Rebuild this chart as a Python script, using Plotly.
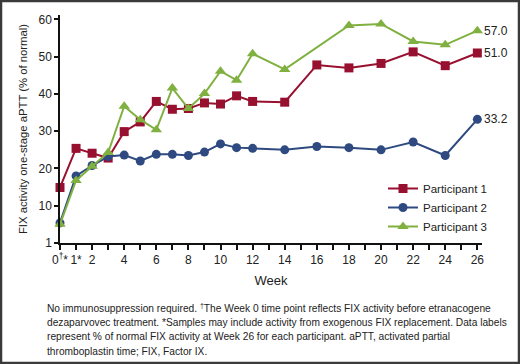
import plotly.graph_objects as go

weeks_p1 = [0, 1, 2, 3, 4, 5, 6, 7, 8, 9, 10, 11, 12, 14, 16, 18, 20, 22, 24, 26]
p1 = [14.9, 25.4, 24.1, 22.8, 29.9, 32.5, 38.0, 35.9, 36.1, 37.6, 37.3, 39.5, 38.0, 37.8, 47.8, 47.0, 48.2, 51.3, 47.6, 51.0]
weeks_p2 = [0, 1, 2, 3, 4, 5, 6, 7, 8, 9, 10, 11, 12, 14, 16, 18, 20, 22, 24, 26]
p2 = [5.4, 18.0, 20.8, 23.2, 23.6, 22.0, 23.8, 23.8, 23.5, 24.4, 26.6, 25.6, 25.4, 25.0, 25.9, 25.6, 25.0, 27.1, 23.5, 33.2]
weeks_p3 = [0, 1, 2, 3, 4, 5, 6, 7, 8, 9, 10, 11, 12, 14, 18, 20, 22, 24, 26]
p3 = [5.0, 16.8, 20.6, 24.3, 36.7, 33.1, 30.4, 41.6, 36.1, 40.1, 46.1, 43.7, 50.8, 46.6, 58.4, 58.8, 54.1, 53.2, 57.0]
series_names = ["Participant 1", "Participant 2", "Participant 3"]
end_labels = ["51.0", "33.2", "57.0"]

x_tickvals = [0, 1, 2, 4, 6, 8, 10, 12, 14, 16, 18, 20, 22, 24, 26]
x_ticktext = ["0<sup>†</sup>*", "1*", "2", "4", "6", "8", "10", "12", "14", "16", "18", "20", "22", "24", "26"]
y_tickvals = [0, 10, 20, 30, 40, 50, 60]
y_ticktext = ["1", "10", "20", "30", "40", "50", "60"]

caption_lines = [
    "No immunosuppression required. <sup>†</sup>The Week 0 time point reflects FIX activity before etranacogene",
    "dezaparvovec treatment. *Samples may include activity from exogenous FIX replacement. Data labels",
    "represent % of normal FIX activity at Week 26 for each participant. aPTT, activated partial",
    "thromboplastin time; FIX, Factor IX.",
]

colors = ["#98102F", "#2E4A80", "#7FB040"]
symbols = ["square", "circle", "triangle-up"]
sizes = [9, 9, 10]

W, H = 520, 364
L, R, T, B = 60, 38, 15, 121
pw, ph = W - L - R, H - T - B

def px_x(x):
    return (x - L) / pw

def px_y(y):
    return (H - B - y) / ph

fig = go.Figure()
for xs, ys, name, c, s, sz in zip([weeks_p1, weeks_p2, weeks_p3], [p1, p2, p3], series_names, colors, symbols, sizes):
    fig.add_trace(go.Scatter(x=xs, y=ys, name=name, mode="lines+markers",
                             line=dict(color=c, width=2),
                             marker=dict(symbol=s, size=sz, color=c),
                             cliponaxis=False))

for ys, lab in zip([p1, p2, p3], end_labels):
    fig.add_annotation(x=26, y=ys[-1], text=lab, showarrow=False, xanchor="left",
                       xshift=5, font=dict(size=12, color="#222222"))

font = "Liberation Sans, Arial, sans-serif"

fig.update_layout(
    width=W, height=H,
    margin=dict(l=L, r=R, t=T, b=B),
    paper_bgcolor="white", plot_bgcolor="white",
    font=dict(family=font, size=12, color="#222222"),
    showlegend=True,
    legend=dict(x=px_x(383), y=px_y(174), xanchor="left", yanchor="top",
                font=dict(size=11.5), bgcolor="rgba(0,0,0,0)", tracegroupgap=0,
                itemwidth=30),
    xaxis=dict(range=[0, 26.29], tickvals=x_tickvals, ticktext=x_ticktext,
               showgrid=False, zeroline=False, showline=True, linecolor="#111111", linewidth=1.5,
               ticks="outside", ticklen=5, tickwidth=1.5, tickcolor="#111111",
               minor=dict(dtick=1, tick0=0, ticks="outside", ticklen=5, tickwidth=1.5, tickcolor="#111111"),
               title=dict(text="Week", font=dict(size=13), standoff=10),
               tickfont=dict(size=12)),
    yaxis=dict(range=[0, 61.2], tickvals=y_tickvals, ticktext=y_ticktext,
               showgrid=False, zeroline=False, showline=True, linecolor="#111111", linewidth=1.5,
               ticks="outside", ticklen=4, tickwidth=1.5, tickcolor="#111111",
               title=dict(text="FIX activity one-stage aPTT (% of normal)", font=dict(size=11.3), standoff=9),
               tickfont=dict(size=12)),
)

for i, line in enumerate(caption_lines):
    fig.add_annotation(xref="paper", yref="paper", x=px_x(45), y=px_y(307.5 + 14.6 * i),
                       xanchor="left", yanchor="middle", align="left", showarrow=False,
                       text=line, font=dict(size=10.2, color="#222222"))

# outer frame
fig.add_shape(type="rect", xref="paper", yref="paper",
              x0=px_x(1), x1=px_x(W - 1), y0=px_y(H - 1), y1=px_y(1),
              line=dict(color="#3a3a3a", width=2.5), fillcolor="rgba(0,0,0,0)")

fig.write_html("out.html", config={"displayModeBar": False},
               post_script="document.body.style.margin='0';document.body.style.overflow='hidden';")
